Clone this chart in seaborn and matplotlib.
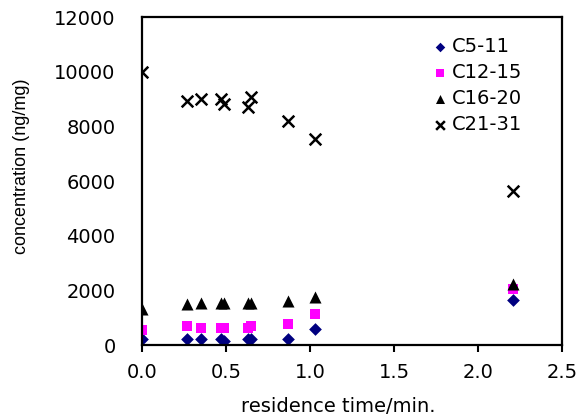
import pandas as pd
import seaborn as sns
import matplotlib.pyplot as plt
from matplotlib import font_manager

# residence time (min) for each sample
residence_time = [0.0, 0.27, 0.35, 0.47, 0.49, 0.63, 0.65, 0.87, 1.03, 2.21]

# concentrations (ng/mg)
c5_11 = [220, 220, 220, 220, 160, 220, 220, 220, 580, 1640]
c12_15 = [560, 690, 630, 630, 630, 630, 690, 770, 1140, 2050]
c16_20 = [1320, 1490, 1550, 1550, 1550, 1550, 1550, 1610, 1760, 2220]
c21_31 = [10000, 8940, 8990, 9000, 8800, 8700, 9090, 8180, 7550, 5630]

series_names = ["C5-11", "C12-15", "C16-20", "C21-31"]
series_values = [c5_11, c12_15, c16_20, c21_31]

sns.set_style("white")
plt.rcParams['font.family'] = ['DejaVu Sans']
for k in ['text.color', 'axes.labelcolor', 'xtick.color', 'ytick.color']:
    plt.rcParams[k] = 'black'

# narrow face for the y label if it is there
installed = {f.name for f in font_manager.fontManager.ttflist}
if 'Liberation Sans Narrow' in installed:
    ylab_font, ylab_size = 'Liberation Sans Narrow', 15
else:
    ylab_font, ylab_size = 'Liberation Sans', 13

df = pd.DataFrame({
    "time": residence_time * len(series_names),
    "conc": [v for vals in series_values for v in vals],
    "series": [n for n in series_names for _ in residence_time],
})

styles = {
    "C5-11": dict(marker="D", color="#000080", s=42),
    "C12-15": dict(marker="s", color="#FF00FF", s=50),
    "C16-20": dict(marker="^", color="black", s=75),
    "C21-31": dict(marker="x", color="black", s=70),
}

fig = plt.figure(figsize=(5.79, 4.19), dpi=100)
ax = fig.add_axes([0.2453, 0.1766, 0.7254, 0.7828])

for name in series_names:
    st = styles[name]
    sub = df[df["series"] == name]
    kw = dict(linewidth=0) if st["marker"] != "x" else dict(linewidth=1.8)
    sns.scatterplot(data=sub, x="time", y="conc", ax=ax, marker=st["marker"],
                    color=st["color"], s=st["s"], label=name, **kw)

ax.set_xlim(0, 2.5)
ax.set_ylim(0, 12000)
ax.set_xticks([0, 0.5, 1.0, 1.5, 2.0, 2.5])
ax.set_xticklabels(["0.0", "0.5", "1.0", "1.5", "2.0", "2.5"])
ax.set_yticks(range(0, 12001, 2000))
ax.tick_params(axis="x", direction="out", length=5, width=1.5, bottom=True,
               labelsize=14, pad=8)
ax.tick_params(axis="y", length=0, labelsize=14, pad=19)
for sp in ax.spines.values():
    sp.set_linewidth(1.6)
    sp.set_color("black")

ax.set_xlabel("residence time/min.", fontsize=14)
ax.xaxis.set_label_coords(0.467, -0.189)
ax.xaxis.label.set_va("center")
ax.set_ylabel("concentration (ng/mg)", fontsize=ylab_size, family=ylab_font)
ax.yaxis.set_label_coords(-0.286, 0.544)
ax.yaxis.label.set_va("center")

ax.legend(loc="upper left", frameon=False, fontsize=14, handletextpad=0.0,
          labelspacing=0.35, markerscale=0.75, borderaxespad=0.0,
          handlelength=1.2, bbox_to_anchor=(0.663, 0.962))

fig.savefig("out.png", dpi=100)
